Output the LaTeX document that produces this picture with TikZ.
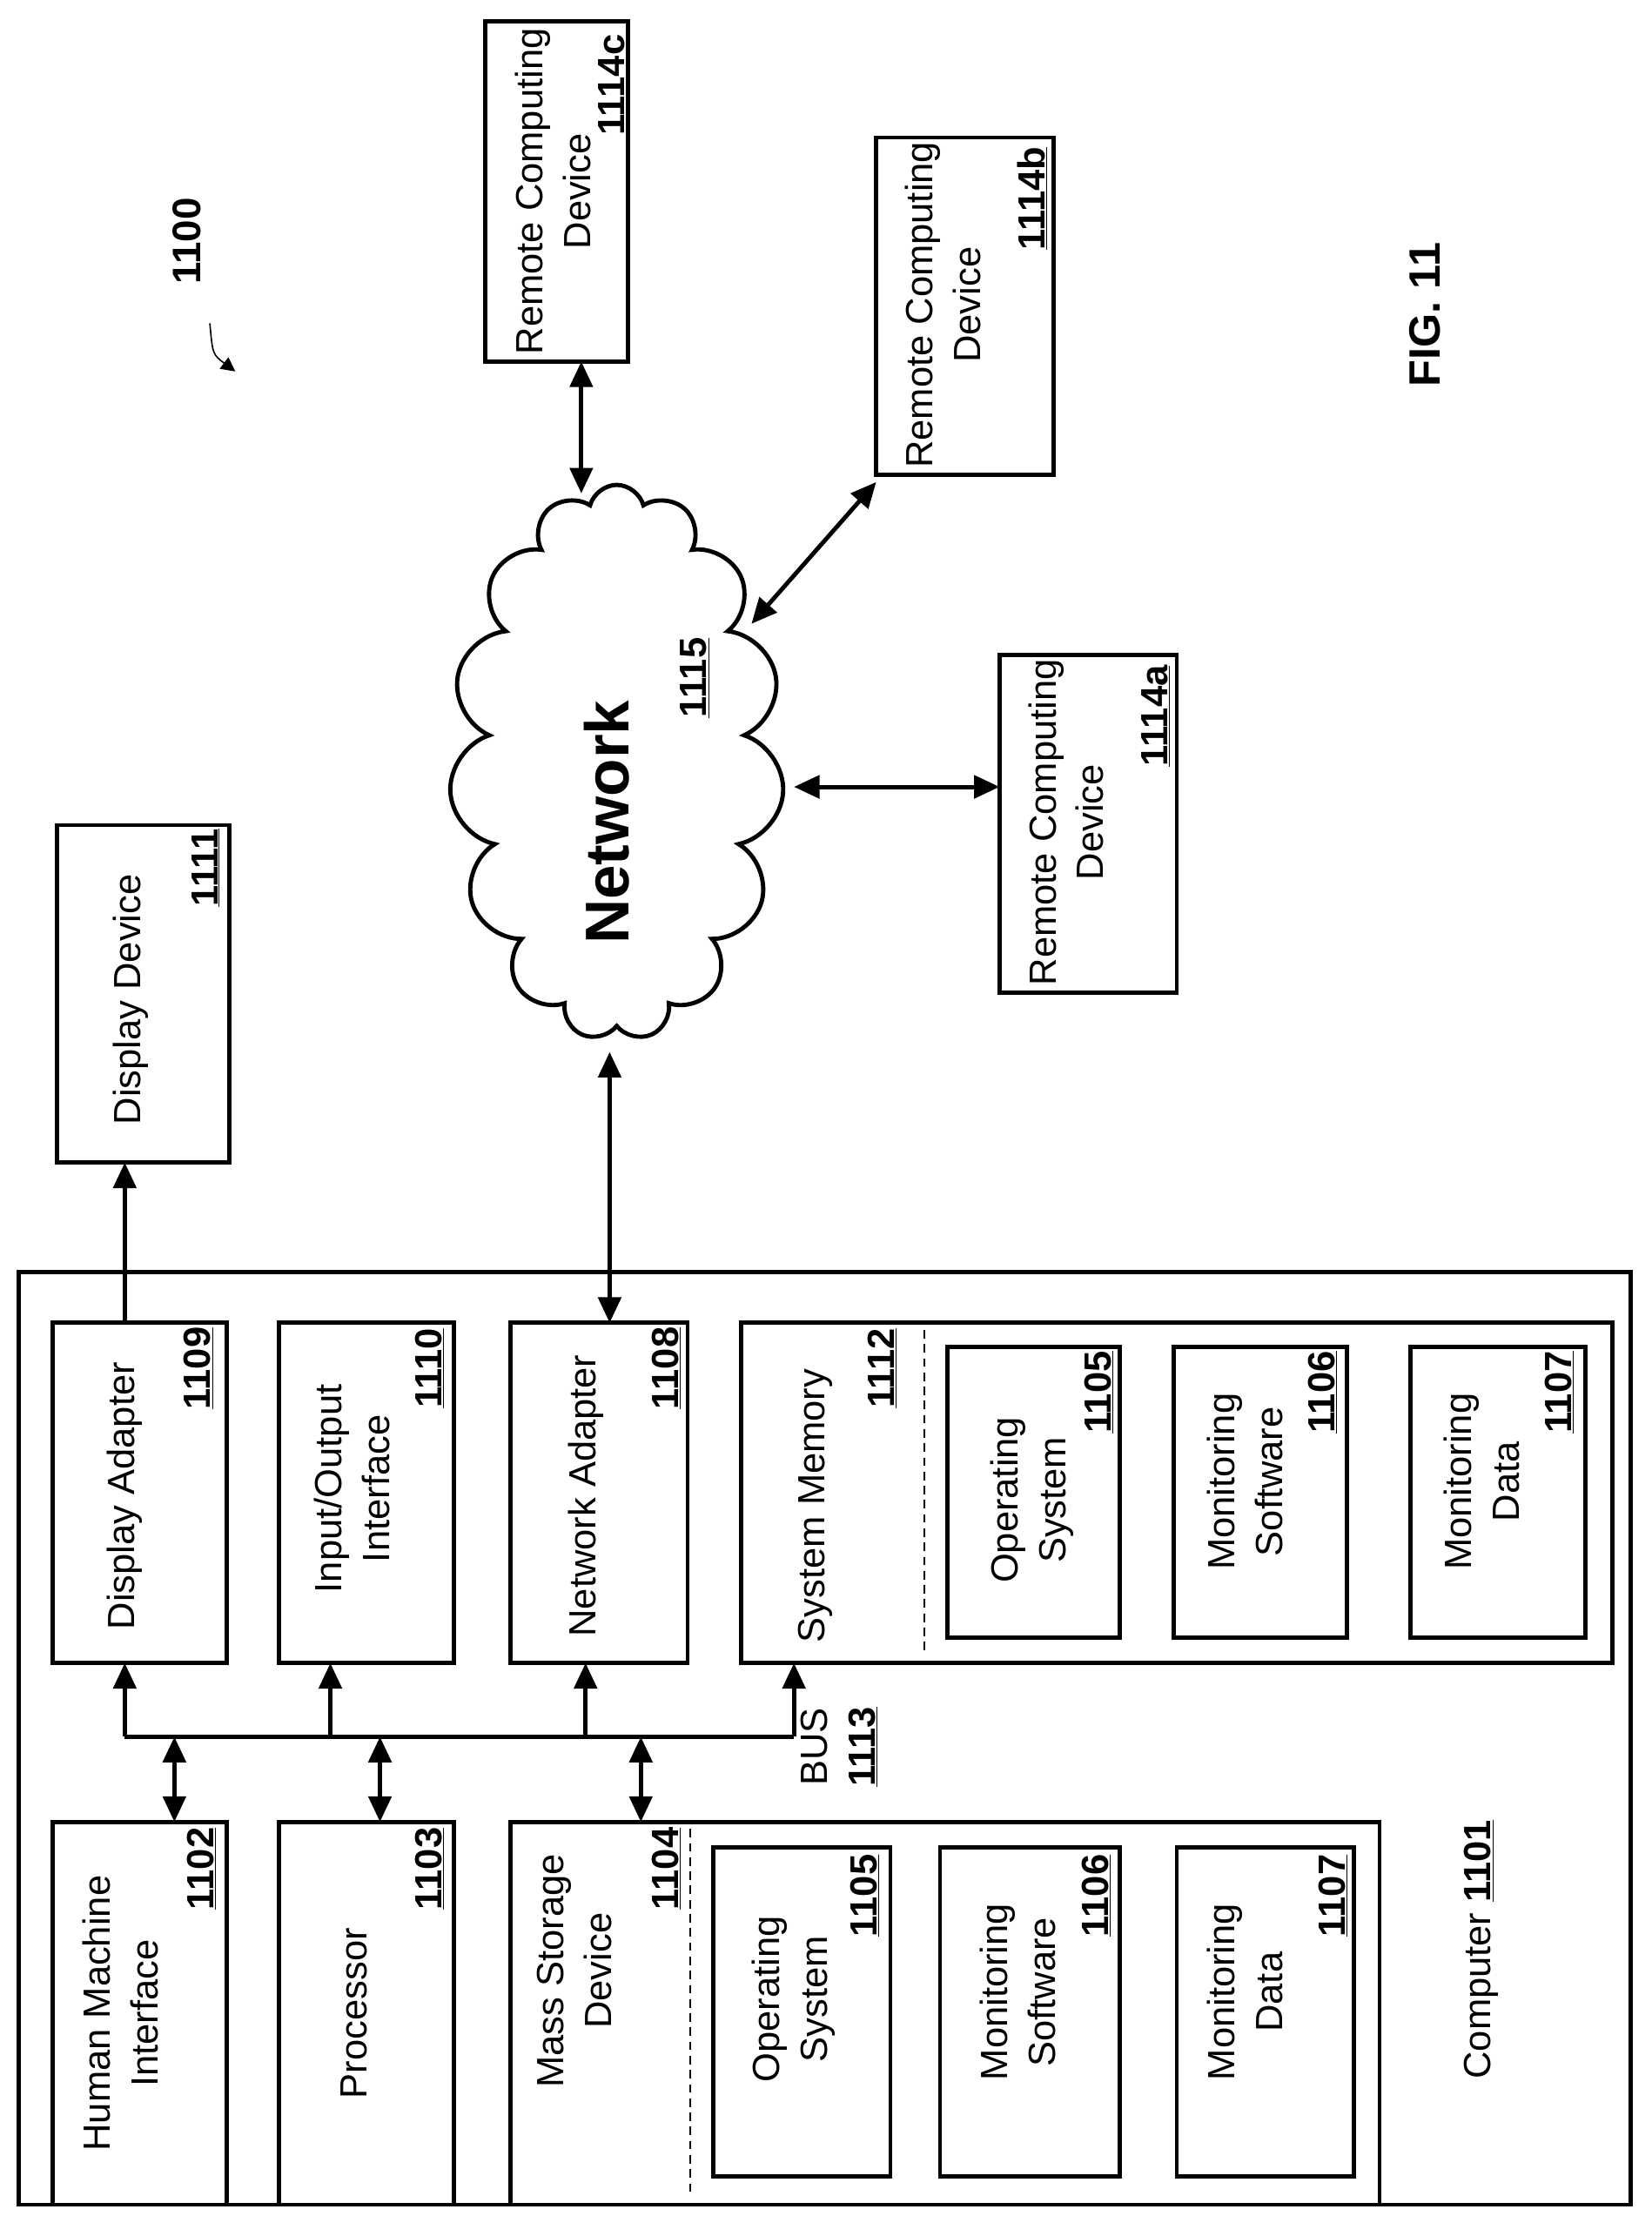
\documentclass[tikz,border=0pt]{standalone}
\usepackage{fontspec}
\setmainfont{Liberation Sans}
\usetikzlibrary{arrows.meta,shapes.symbols,positioning}
\begin{document}
\begin{tikzpicture}[
x=0.5mm,
y=-0.5mm,
box/.style={draw, line width=1.5mm},
txt/.style={rotate=90, align=center, font=\fontsize{38}{48}\selectfont},
num/.style={rotate=90, font=\fontsize{38}{48}\selectfont\bfseries},
link/.style={line width=1.5mm, {Triangle[length=9mm,width=8mm]}-{Triangle[length=9mm,width=8mm]}},
uplink/.style={line width=1.5mm, -{Triangle[length=9mm,width=8mm]}},
]
\useasboundingbox (0,0) rectangle (1165,1563);
% remote devices
\draw[box] (342,15) rectangle (443,255);
\node[txt] (rc) at (390,135) {Remote Computing\\Device};
\node[num] (rcn) at (432,60) {\underline{1114c}};
\draw[box] (618,97) rectangle (743,335);
\node[txt] (rb) at (665,215) {Remote Computing\\Device};
\node[num] (rbn) at (728,140) {\underline{1114b}};
\draw[box] (705,462) rectangle (830,700);
\node[txt] (ra) at (752,580) {Remote Computing\\Device};
\node[num] (ran) at (815,505) {\underline{1114a}};
% display
\draw[box] (40,582) rectangle (162,820);
\node[txt] (dd) at (92,705) {Display Device};
\node[num] (ddn) at (145,612) {\underline{1111}};
% network
\node[cloud, cloud puffs=15, cloud ignores aspect, draw, line width=1.5mm, minimum width=118mm, minimum height=196mm] (net) at (435,538) {};
\node[rotate=90, font=\fontsize{62}{70}\selectfont\bfseries] (nett) at (428,580) {Network};
\node[num] (netn) at (490,478) {\underline{1115}};
\coordinate (nc) at (410,348);
\coordinate (nb) at (530,440);
\coordinate (na) at (560,555);
\coordinate (nd) at (430,742);
% computer
\draw[box] (13,897) rectangle (1150,1555);
\node[txt] (comp) at (1045,1375) {Computer \textbf{\underline{1101}}};
\draw[box] (37,933) rectangle (160,1173);
\node[txt] (da) at (88,1055) {Display Adapter};
\node[num] (dan) at (140,965) {\underline{1109}};
\draw[box] (197,933) rectangle (320,1173);
\node[txt] (io) at (248,1050) {Input/Output\\Interface};
\node[num] (ion) at (303,965) {\underline{1110}};
\draw[box] (360,933) rectangle (485,1173);
\node[txt] (na1) at (413,1055) {Network Adapter};
\node[num] (nan) at (470,965) {\underline{1108}};
\draw[box] (523,933) rectangle (1137,1173);
\draw[line width=0.7mm, dash pattern=on 3mm off 2mm] (652,938) -- (652,1168);
\node[txt] (sm) at (575,1062) {System Memory};
\node[num] (smn) at (622,965) {\underline{1112}};
\draw[box] (668,950) rectangle (790,1155);
\node[txt] (os1) at (728,1058) {Operating\\System};
\node[num] (os1n) at (775,982) {\underline{1105}};
\draw[box] (828,950) rectangle (950,1155);
\node[txt] (ms1) at (878,1045) {Monitoring\\Software};
\node[num] (ms1n) at (933,982) {\underline{1106}};
\draw[box] (995,950) rectangle (1118,1155);
\node[txt] (md1) at (1045,1045) {Monitoring\\Data};
\node[num] (md1n) at (1100,982) {\underline{1107}};
\draw[box] (37,1285) rectangle (160,1555);
\node[txt] (hmi) at (85,1420) {Human Machine\\Interface};
\node[num] (hmin) at (142,1318) {\underline{1102}};
\draw[box] (197,1285) rectangle (320,1555);
\node[txt] (pr) at (250,1420) {Processor};
\node[num] (prn) at (303,1318) {\underline{1103}};
\draw[box] (360,1285) rectangle (973,1555);
\draw[line width=0.7mm, dash pattern=on 3mm off 2mm] (487,1290) -- (487,1550);
\node[txt] (mass) at (405,1390) {Mass Storage\\Device};
\node[num] (massn) at (470,1318) {\underline{1104}};
\draw[box] (503,1303) rectangle (628,1535);
\node[txt] (os2) at (560,1410) {Operating\\System};
\node[num] (os2n) at (610,1337) {\underline{1105}};
\draw[box] (663,1303) rectangle (790,1535);
\node[txt] (ms2) at (718,1405) {Monitoring\\Software};
\node[num] (ms2n) at (773,1337) {\underline{1106}};
\draw[box] (830,1303) rectangle (955,1535);
\node[txt] (md2) at (878,1405) {Monitoring\\Data};
\node[num] (md2n) at (940,1337) {\underline{1107}};
% bus
\node[txt] (bus) at (592,1232) {BUS\\\textbf{\underline{1113}}};
\draw[line width=1.5mm] (88,1225) -- (560,1225);
\foreach \x in {88,233,413,560}
 \draw[uplink] (\x,1225) -- (\x,1173);
\foreach \x in {123,268,452}
 \draw[link] (\x,1225) -- (\x,1285);
% connectors
\draw[uplink] (88,933) -- (88,820);
\draw[link] (nd) -- (430,933);
\draw[link] (na) -- (705,555);
\draw[link] (nb) -- (618,340);
\draw[link] (nc) -- (410,255);
% labels
\node[rotate=90, font=\fontsize{40}{48}\selectfont\bfseries] (fig) at (132,170) {1100};
\draw[line width=0.5mm, -{Triangle[length=5mm,width=5mm]}] (148,228) .. controls (150,250) .. (166,262);
\node[rotate=90, font=\fontsize{44}{52}\selectfont\bfseries] (figl) at (1005,222) {FIG. 11};
\end{tikzpicture}
\end{document}
